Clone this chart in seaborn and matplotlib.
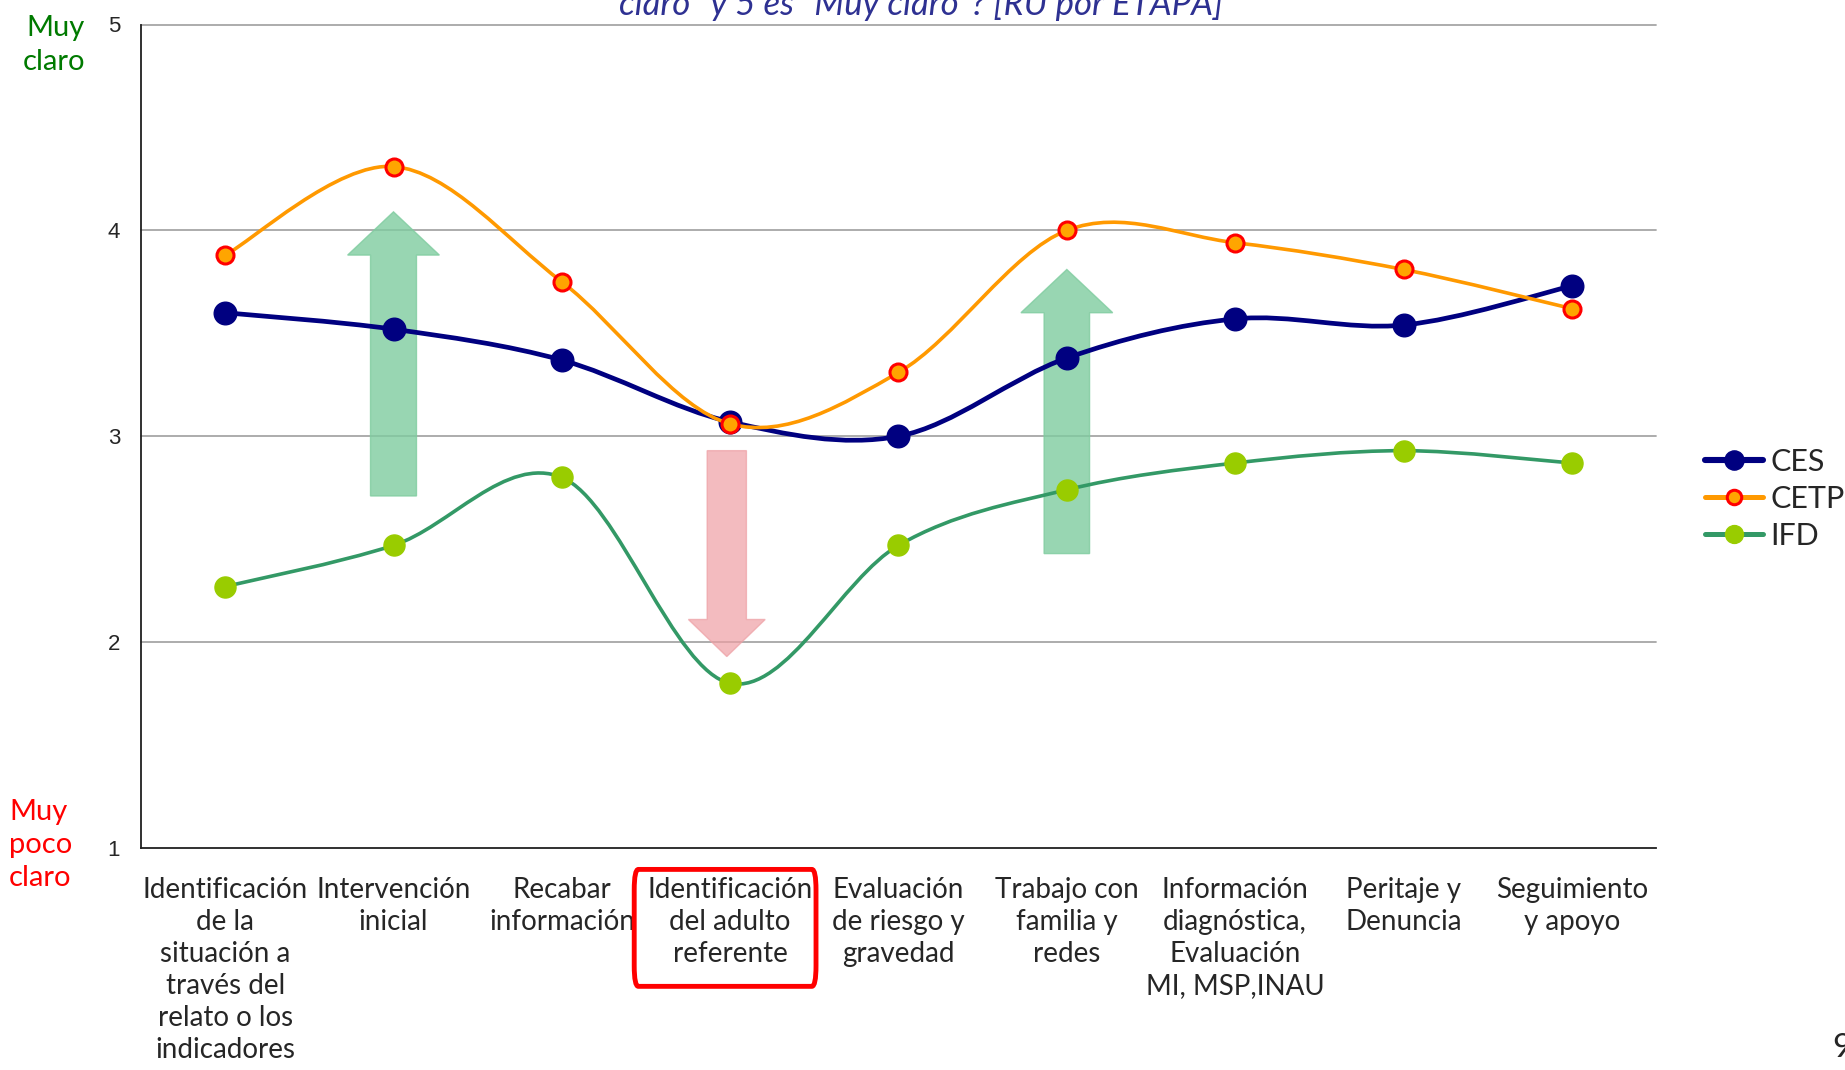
import numpy as np
import matplotlib
matplotlib.use("Agg")
import matplotlib.pyplot as plt
import seaborn as sns
from matplotlib.path import Path
from matplotlib.patches import PathPatch, FancyArrow, FancyBboxPatch
from matplotlib.lines import Line2D

# Data
etapas = [
    "Identificación\nde la\nsituación a\ntravés del\nrelato o los\nindicadores",
    "Intervención\ninicial",
    "Recabar\ninformación",
    "Identificación\ndel adulto\nreferente",
    "Evaluación\nde riesgo y\ngravedad",
    "Trabajo con\nfamilia y\nredes",
    "Información\ndiagnóstica,\nEvaluación\nMI, MSP,INAU",
    "Peritaje y\nDenuncia",
    "Seguimiento\ny apoyo",
]
ces = [3.60, 3.52, 3.37, 3.07, 3.00, 3.38, 3.57, 3.54, 3.73]
cetp = [3.88, 4.31, 3.75, 3.06, 3.31, 4.00, 3.94, 3.81, 3.62]
ifd = [2.27, 2.47, 2.80, 1.80, 2.47, 2.74, 2.87, 2.93, 2.87]
y_ticks = [1, 2, 3, 4, 5]

sns.set_style("white")
narrow = ["Lato", "DejaVu Sans"]
plt.rcParams["font.family"] = ["Liberation Sans", "DejaVu Sans"]

fig = plt.figure(figsize=(18.45, 10.70), dpi=100)
ax = fig.add_axes([141 / 1845, 1 - 848 / 1070, 1515 / 1845, 823.5 / 1070])

x = np.arange(len(etapas))


def smooth_path(xs, ys):
    # excel-like smoothed line: cubic bezier through the points
    pts = np.column_stack([xs, ys]).astype(float)
    n = len(pts)
    verts = [pts[0]]
    codes = [Path.MOVETO]
    for i in range(n - 1):
        p0 = pts[i - 1] if i > 0 else pts[i]
        p1 = pts[i]
        p2 = pts[i + 1]
        p3 = pts[i + 2] if i + 2 < n else pts[i + 1]
        verts += [p1 + (p2 - p0) / 6, p2 - (p3 - p1) / 6, p2]
        codes += [Path.CURVE4] * 3
    return Path(verts, codes)


# arrows behind the lines
ax.add_patch(FancyArrow(1, 2.71, 0, 1.38, width=0.273, head_width=0.545,
                        head_length=0.21, length_includes_head=True,
                        facecolor="#7fcc9f", edgecolor="#7fcc9f", alpha=0.8, zorder=1))
ax.add_patch(FancyArrow(5, 2.43, 0, 1.38, width=0.27, head_width=0.545,
                        head_length=0.21, length_includes_head=True,
                        facecolor="#7fcc9f", edgecolor="#7fcc9f", alpha=0.8, zorder=1))
ax.add_patch(FancyArrow(2.98, 2.93, 0, -1.0, width=0.233, head_width=0.456,
                        head_length=0.18, length_includes_head=True,
                        facecolor="#ee9fa4", edgecolor="#ee9fa4", alpha=0.7, zorder=1))

series = [
    ("CES", ces, "#000080", 3.4, "#000080", "#000080", 265, 1),
    ("CETP", cetp, "#FF9900", 2.6, "#FFA500", "#FF0000", 150, 2.2),
    ("IFD", ifd, "#339966", 2.6, "#99CC00", "#99CC00", 230, 1),
]
handles = []
for z, (name, vals, lc, lw, mfc, mec, s, mew) in enumerate(series):
    ax.add_patch(PathPatch(smooth_path(x, vals), fill=False, edgecolor=lc, lw=lw,
                           capstyle="round", joinstyle="round", zorder=3 + 2 * z))
    sns.scatterplot(x=x, y=vals, s=s, color=mfc, edgecolor=mec, linewidth=mew,
                    zorder=4 + 2 * z, ax=ax, legend=False)
    handles.append(Line2D([], [], color=lc, lw=lw + 1, marker="o",
                          markersize=np.sqrt(s) * 0.85, markerfacecolor=mfc,
                          markeredgecolor=mec, markeredgewidth=mew, label=name))

ax.set_xlim(-0.5, 8.5)
ax.set_ylim(1, 5)
ax.set_yticks(y_ticks)
ax.set_yticklabels([str(t) for t in y_ticks], fontsize=16)
for t in y_ticks[1:]:
    ax.axhline(t, color="#a6a6a6", lw=1.3, zorder=0, clip_on=False)

ax.set_xticks(x)
ax.set_xticklabels(etapas, fontsize=20, family=narrow, linespacing=1.28)
ax.set_xticks(np.arange(-0.5, 9, 1), minor=True)
ax.tick_params(axis="x", which="major", length=0, pad=21)
ax.tick_params(axis="x", which="minor", length=6, width=1.2, color="#404040", direction="out")
ax.tick_params(axis="y", which="major", length=6, width=1.2, color="#808080",
               direction="out", pad=9)
ax.set_xlabel("")
ax.set_ylabel("")

for sp in ["top", "right"]:
    ax.spines[sp].set_visible(False)
ax.spines["left"].set_color("#202020")
ax.spines["bottom"].set_color("#202020")
ax.spines["left"].set_linewidth(1.3)
ax.spines["bottom"].set_linewidth(1.3)

# red rounded box around the highlighted stage
box = FancyBboxPatch((2.43, -0.168), 1.08, 0.142, transform=ax.get_xaxis_transform(),
                     boxstyle="round,pad=0,rounding_size=0.025", fill=False,
                     edgecolor="#ff0000", lw=3.5, clip_on=False, zorder=10)
ax.add_patch(box)

# side labels
fig.text(85 / 1845, 1 - 45 / 1070, "Muy\nclaro", color="#007a00", fontsize=21,
         family=narrow, ha="right", va="center", linespacing=1.35)
fig.text(9 / 1845, 1 - 845 / 1070, "Muy\npoco\nclaro", color="#ff0000", fontsize=21,
         family=narrow, ha="left", va="center", linespacing=1.35)

# title, cut off at the top of the slide
fig.text(921 / 1845, 1 - 15 / 1070, "claro\" y 5 es \"Muy claro\"? [RU por ETAPA]",
         color="#2e3192", fontsize=25, style="italic", family=narrow,
         ha="center", va="baseline")

# slide number
fig.text(1832 / 1845, 1 - 1057 / 1070, "9", fontsize=24, family=narrow,
         ha="left", va="baseline")

fig.legend(handles=handles, loc="center left", bbox_to_anchor=(1705 / 1845, 1 - 499 / 1070),
           frameon=False, prop={"family": narrow, "size": 22},
           handlelength=1.9, handletextpad=0.25, labelspacing=0.3,
           borderpad=0, borderaxespad=0)

fig.savefig("out.png", dpi=100)
